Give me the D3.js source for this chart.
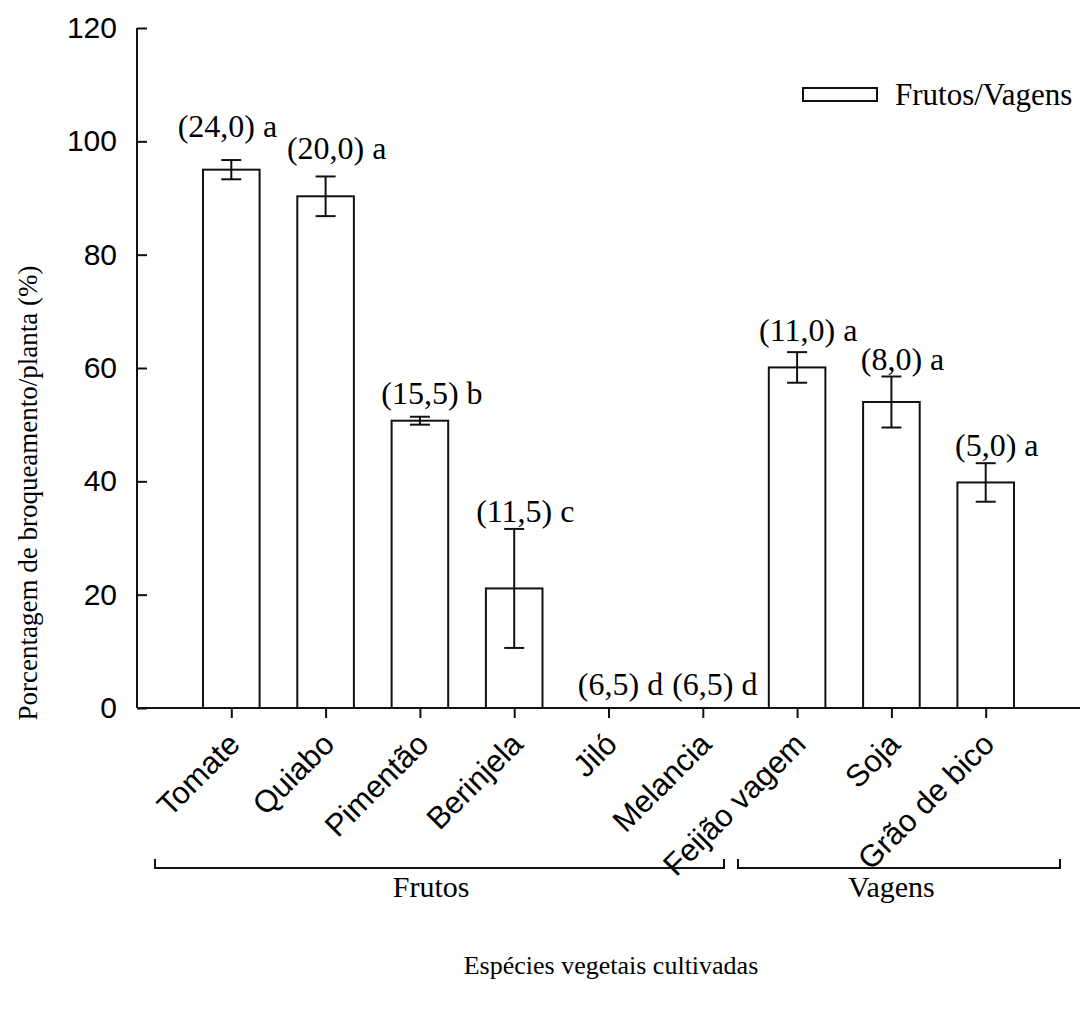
<!DOCTYPE html>
<html>
<head>
<meta charset="utf-8">
<script src="https://cdn.jsdelivr.net/npm/d3@7"></script>
<style>
  html, body { margin: 0; padding: 0; background: #fff; }
  svg { display: block; }
  .serif { font-family: "Liberation Serif", "Times New Roman", serif; fill: #000; }
  .sans { font-family: "Liberation Sans", Arial, sans-serif; fill: #000; }
</style>
</head>
<body>
<svg id="chart" width="1081" height="1021"></svg>
<script>
// Crop species and their borer damage (% per plant), with standard error
const species = ["Tomate", "Quiabo", "Pimentão", "Berinjela", "Jiló", "Melancia", "Feijão vagem", "Soja", "Grão de bico"];
const damage = [95.0, 90.3, 50.7, 21.1, 0, 0, 60.1, 54.0, 39.8];
const stdErr = [1.7, 3.5, 0.7, 10.5, 0, 0, 2.7, 4.5, 3.4];
// Annotation over each bar: mean count in parentheses plus the test letter
const countLabels = ["(24,0)", "(20,0)", "(15,5)", "(11,5)", "(6,5)", "(6,5)", "(11,0)", "(8,0)", "(5,0)"];
const letters = ["a", "a", "b", "c", "d", "d", "a", "a", "a"];
const yTicks = [0, 20, 40, 60, 80, 100, 120];
// Groups under the axis: first and last species index of each
const groups = [
  { name: "Frutos", from: 0, to: 5 },
  { name: "Vagens", from: 6, to: 8 }
];

// Layout tweaks for the annotations (pixels above the error bar, horizontal nudge)
const labelLift = [23, 17, 13, 7, 13, 13, 11, 7, 7];
const labelShift = [-15, 0, 0, 0, 0, 0, 0, 0, 0];

const svg = d3.select("#chart");
const plotLeft = 137, plotRight = 1080, plotTop = 28, plotBottom = 708;

const x = d3.scaleLinear().domain([0, species.length + 1]).range([plotLeft, plotRight]);
const y = d3.scaleLinear().domain([0, 120]).range([plotBottom, plotTop]);
const step = x(1) - x(0);
const barW = step * 0.6;
const capW = 20;
const ink = "#111";

// Bars
svg.append("g").selectAll("rect")
  .data(species)
  .join("rect")
  .attr("x", (d, i) => x(i + 1) - barW / 2)
  .attr("y", (d, i) => y(damage[i]))
  .attr("width", barW)
  .attr("height", (d, i) => y(0) - y(damage[i]))
  .attr("fill", "#fff")
  .attr("stroke", ink)
  .attr("stroke-width", 2);

// Error bars
const eb = svg.append("g").attr("stroke", ink).attr("stroke-width", 2);
species.forEach((s, i) => {
  if (stdErr[i] <= 0) return;
  const cx = x(i + 1);
  const hi = y(damage[i] + stdErr[i]);
  const lo = y(damage[i] - stdErr[i]);
  eb.append("line").attr("x1", cx).attr("x2", cx).attr("y1", hi).attr("y2", lo);
  eb.append("line").attr("x1", cx - capW / 2).attr("x2", cx + capW / 2).attr("y1", hi).attr("y2", hi);
  eb.append("line").attr("x1", cx - capW / 2).attr("x2", cx + capW / 2).attr("y1", lo).attr("y2", lo);
});

// Y axis
const yAxis = d3.axisLeft(y).tickValues(yTicks).tickSize(-10).tickPadding(20);
const gy = svg.append("g").attr("transform", `translate(${plotLeft},0)`).call(yAxis);
gy.select(".domain").attr("stroke", ink).attr("stroke-width", 2).attr("d", `M0,${plotTop}V${plotBottom}`);
gy.selectAll(".tick line").attr("stroke", ink).attr("stroke-width", 2);
gy.selectAll(".tick text")
  .attr("class", "sans")
  .attr("font-size", 30)
  .attr("fill", "#000");

// X axis with ticks at each species
const xAxis = d3.axisBottom(x)
  .tickValues(d3.range(1, species.length + 1))
  .tickFormat(d => species[d - 1])
  .tickSize(10)
  .tickSizeOuter(0);
const gx = svg.append("g").attr("transform", `translate(0,${plotBottom})`).call(xAxis);
gx.select(".domain").attr("stroke", ink).attr("stroke-width", 2).attr("d", `M${plotLeft},0H${plotRight}`);
gx.selectAll(".tick line").attr("stroke", ink).attr("stroke-width", 2);
gx.selectAll(".tick text")
  .attr("class", "sans")
  .attr("font-size", 31)
  .attr("fill", "#000")
  .attr("text-anchor", "end")
  .attr("x", 0).attr("y", 0).attr("dy", 0)
  .attr("transform", "translate(10,38) rotate(-45)");

// Value annotations: the count part centred over the bar, the letter after it
const ann = svg.append("g");
species.forEach((s, i) => {
  const cx = x(i + 1) + labelShift[i];
  const baseY = y(damage[i] + stdErr[i]) - labelLift[i];
  const t = ann.append("text").attr("class", "serif").attr("font-size", 32).attr("y", baseY);
  const num = t.append("tspan").text(countLabels[i]);
  t.append("tspan").text("\u00a0" + letters[i]);
  const w = num.node().getComputedTextLength();
  t.attr("x", cx - w / 2);
});

// Legend
const lg = svg.append("g");
lg.append("rect").attr("x", 803).attr("y", 88).attr("width", 74).attr("height", 13)
  .attr("fill", "#fff").attr("stroke", ink).attr("stroke-width", 2);
lg.append("text").attr("class", "serif").attr("font-size", 31)
  .attr("x", 895).attr("y", 105).text("Frutos/Vagens");

// Group brackets beneath the species names
const bracketY = 868, bracketRise = 9;
const bracketSpan = [[155, 724], [738, 1060]];
groups.forEach((g, k) => {
  const [x0, x1] = bracketSpan[k];
  svg.append("path")
    .attr("d", `M${x0},${bracketY - bracketRise}V${bracketY}H${x1}V${bracketY - bracketRise}`)
    .attr("fill", "none").attr("stroke", ink).attr("stroke-width", 2);
  svg.append("text").attr("class", "serif").attr("font-size", 30)
    .attr("text-anchor", "middle")
    .attr("x", (x(g.from + 1) + x(g.to + 1)) / 2 + (k === 0 ? -36 : 0))
    .attr("y", bracketY + 29)
    .text(g.name);
});

// Axis titles
svg.append("text").attr("class", "serif").attr("font-size", 27)
  .attr("text-anchor", "middle")
  .attr("transform", "translate(37,493) rotate(-90)")
  .text("Porcentagem de broqueamento/planta (%)");

svg.append("text").attr("class", "serif").attr("font-size", 26)
  .attr("text-anchor", "middle")
  .attr("x", 611).attr("y", 974)
  .text("Espécies vegetais cultivadas");
</script>
</body>
</html>
